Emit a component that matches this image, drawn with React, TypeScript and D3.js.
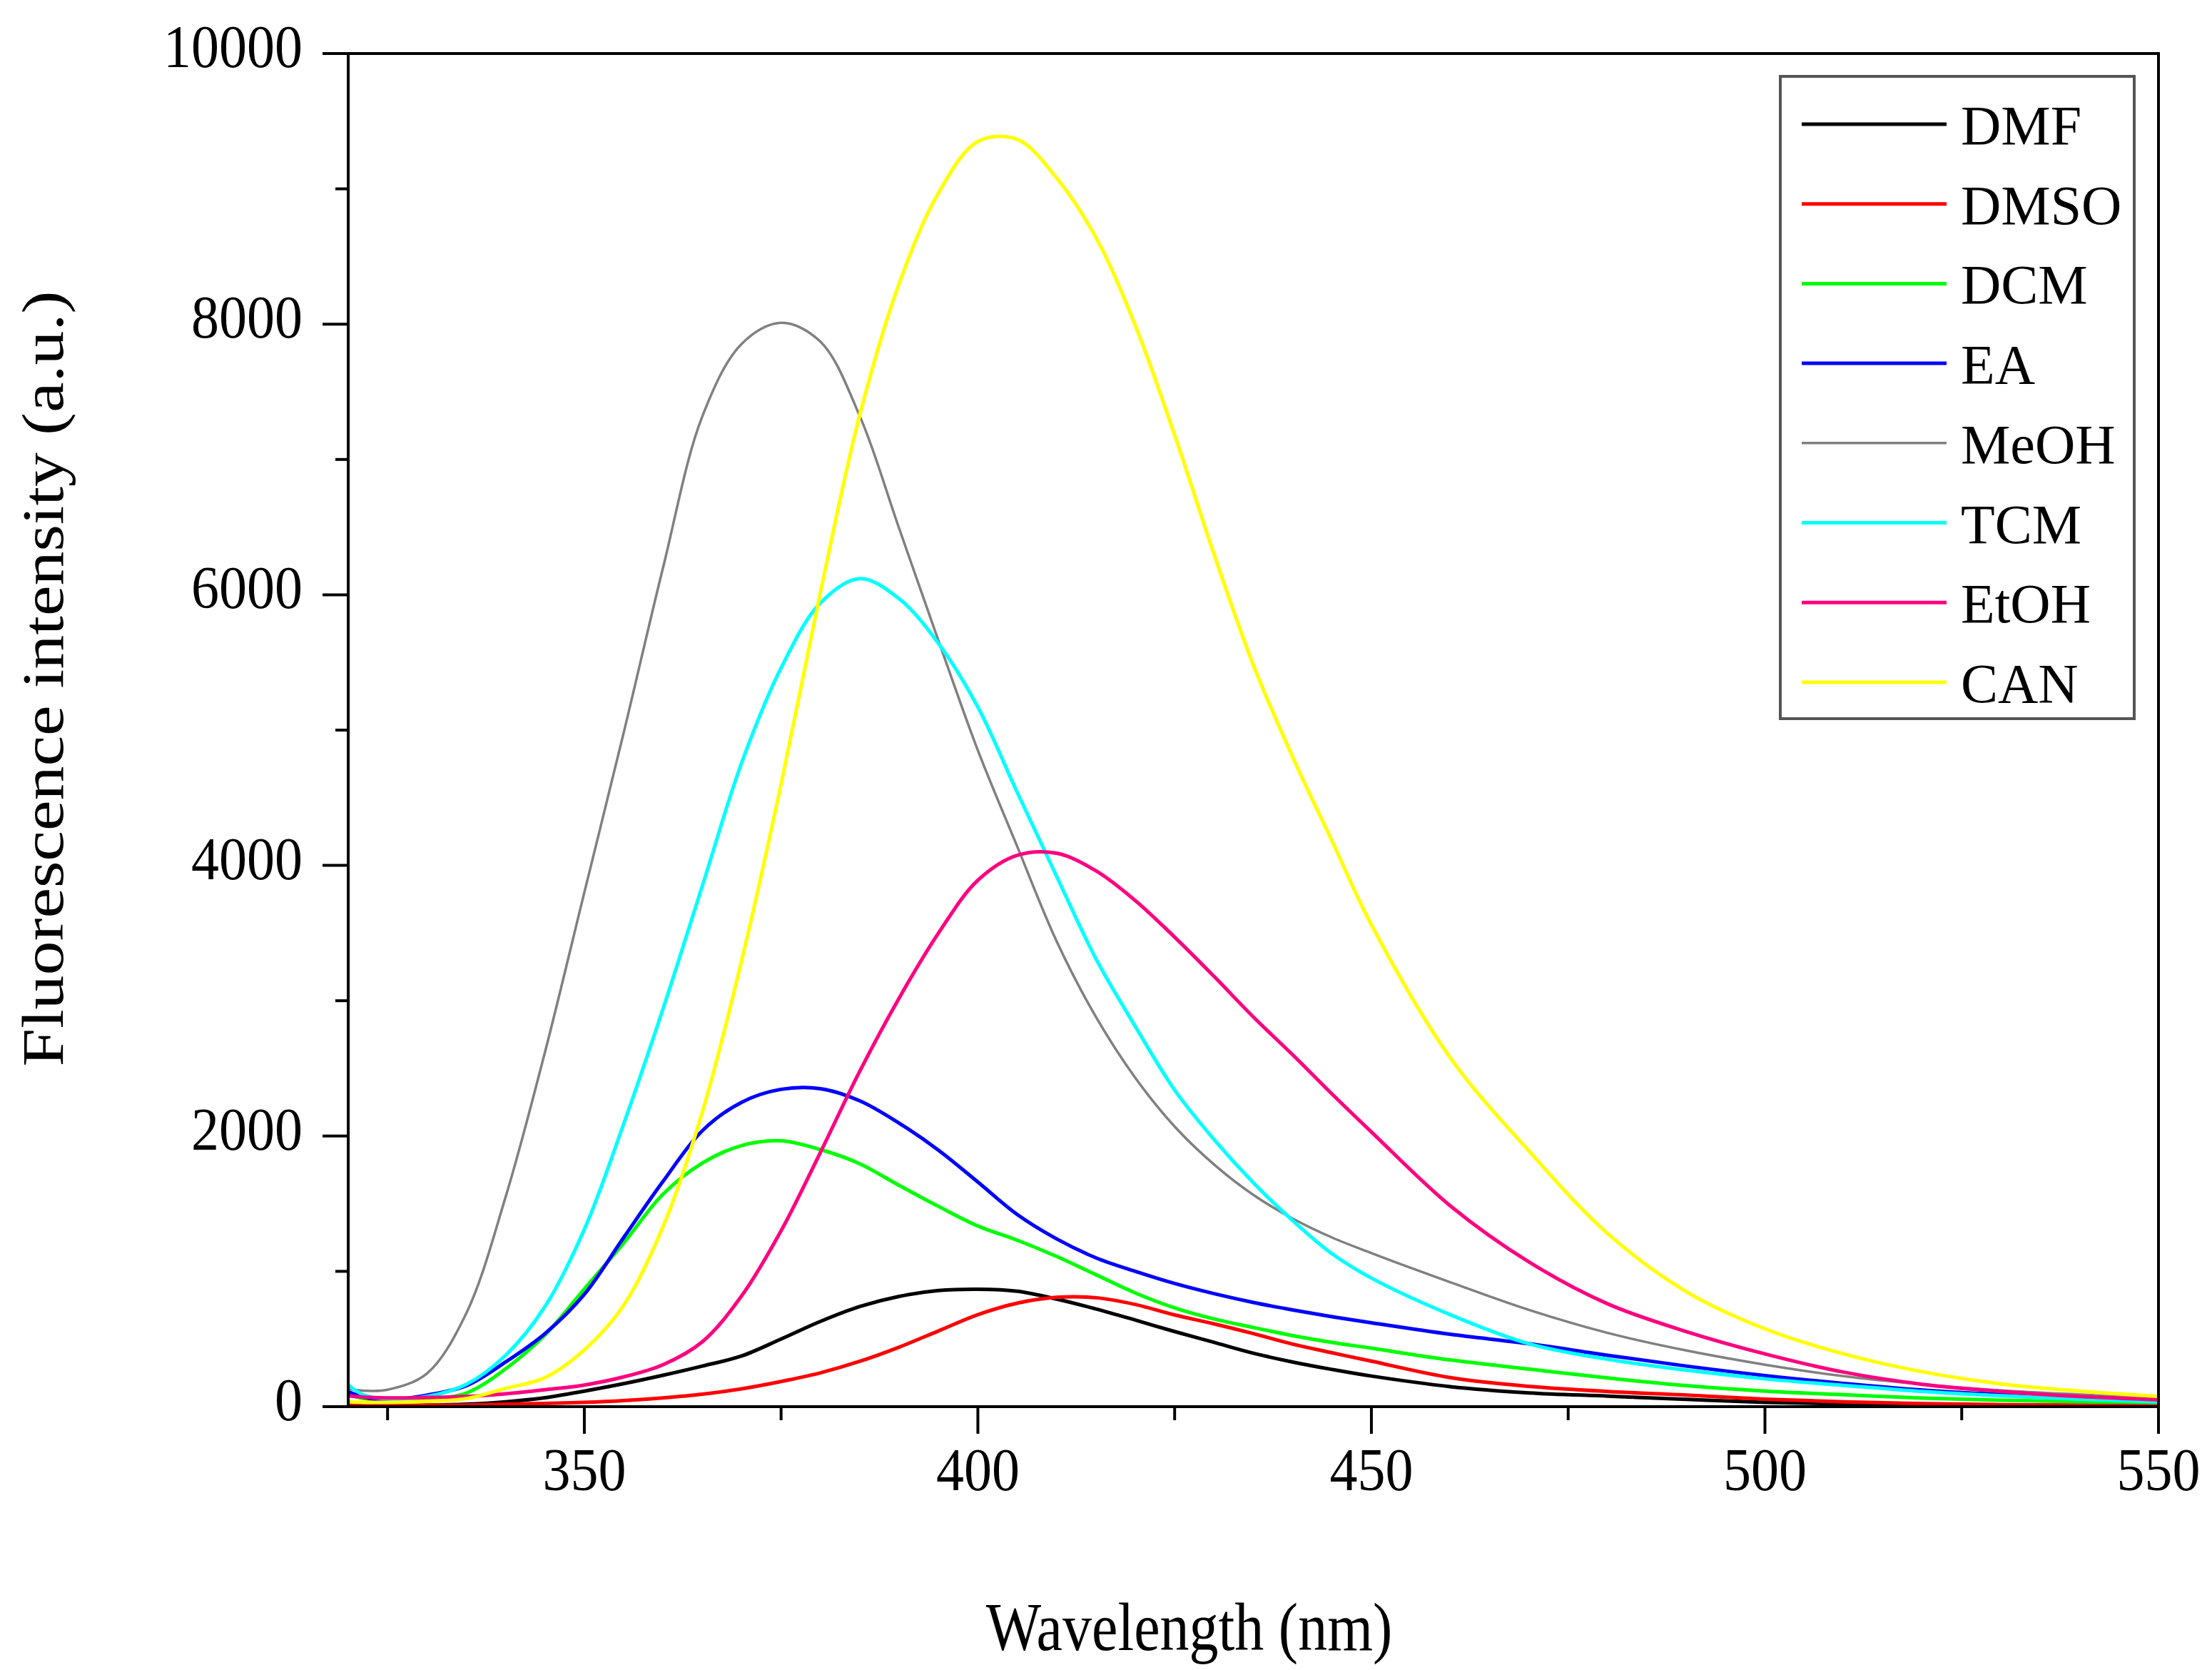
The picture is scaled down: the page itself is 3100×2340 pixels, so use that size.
import { useEffect, useRef } from 'react';
import * as d3 from 'd3';

// Wavelength grid (nm) shared by all spectra
const wavelengths = [
  320, 322, 325, 330, 335, 340, 345, 350, 355, 360, 365, 370, 375, 380, 385, 390, 395, 400, 405,
  410, 415, 420, 425, 430, 435, 440, 445, 450, 460, 470, 480, 490, 500, 510, 520, 530, 540, 550,
];

// Fluorescence intensity (a.u.) per solvent
const dmf = [
  12, 10, 8, 10, 18, 36, 66, 115, 170, 232, 300, 375, 500, 630, 740, 815, 858, 868, 853,
  795, 722, 640, 555, 475, 395, 330, 275, 226, 148, 102, 78, 54, 32, 20, 12, 8, 6, 5,
];
const dmso = [
  18, 14, 10, 10, 12, 18, 24, 32, 45, 65, 92, 132, 186, 250, 335, 440, 560, 680, 765,
  808, 805, 755, 678, 612, 540, 462, 398, 336, 215, 150, 112, 86, 56, 36, 22, 15, 12, 10,
];
const dcm = [
  90, 60, 45, 55, 100, 280, 530, 870, 1210, 1570, 1800, 1930, 1965, 1900, 1795, 1635, 1480, 1335, 1230,
  1110, 975, 840, 730, 648, 585, 525, 475, 432, 345, 278, 212, 155, 115, 88, 63, 47, 37, 30,
];
const ea = [
  110, 70, 50, 85, 155, 330, 540, 830, 1250, 1665, 2040, 2250, 2345, 2350, 2260, 2095, 1895, 1660, 1420,
  1240, 1100, 1000, 910, 835, 770, 715, 665, 620, 535, 465, 380, 300, 230, 172, 123, 90, 68, 51,
];
const meoh = [
  130, 118, 125, 245, 690, 1550, 2620, 3800, 4980, 6200, 7320, 7855, 8010, 7870, 7320, 6490, 5660, 4850, 4140,
  3440, 2880, 2430, 2070, 1790, 1565, 1390, 1250, 1135, 920, 715, 545, 415, 310, 225, 165, 120, 90, 65,
];
const tcm = [
  160, 85, 58, 75, 165, 380, 740, 1310, 2090, 2940, 3850, 4760, 5460, 5940, 6120, 5970, 5640, 5170, 4540,
  3920, 3310, 2810, 2340, 1975, 1655, 1375, 1130, 950, 680, 465, 350, 270, 205, 157, 112, 80, 55, 36,
];
const etoh = [
  80, 70, 65, 68, 75, 95, 125, 160, 220, 310, 480, 820, 1300, 1880, 2480, 3020, 3500, 3890, 4075,
  4090, 3960, 3740, 3470, 3180, 2880, 2600, 2310, 2030, 1485, 1070, 760, 555, 390, 255, 165, 112, 75, 51,
];
const can = [
  35, 32, 32, 40, 60, 135, 215, 420, 750, 1330, 2180, 3300, 4600, 6020, 7330, 8300, 8970, 9350, 9365,
  9080, 8640, 7990, 7180, 6300, 5480, 4800, 4180, 3560, 2580, 1890, 1280, 850, 575, 390, 258, 168, 115, 76,
];

const seriesNames = ['DMF', 'DMSO', 'DCM', 'EA', 'MeOH', 'TCM', 'EtOH', 'CAN'];
const seriesValues = [dmf, dmso, dcm, ea, meoh, tcm, etoh, can];
const seriesColors = ['#000000', '#ff0000', '#00ff00', '#0000ff', '#808080', '#00ffff', '#ff0080', '#ffff00'];

const xTicks = [350, 400, 450, 500, 550];
const xMinorTicks = [325, 375, 425, 475, 525];
const yTicks = [0, 2000, 4000, 6000, 8000, 10000];
const yMinorTicks = [1000, 3000, 5000, 7000, 9000];

const WIDTH = 3100;
const HEIGHT = 2340;
const FONT = '"Liberation Serif", "Times New Roman", serif';

const App = () => {
  const svgRef = useRef<SVGSVGElement>(null);

  useEffect(() => {
    if (!svgRef.current) return;
    const svg = d3.select(svgRef.current);
    svg.selectAll('*').remove();

    // Plot frame in pixels
    const left = 488;
    const right = 3025;
    const top = 75;
    const bottom = 1971;

    const xScale = d3.scaleLinear().domain([320, 550]).range([left, right]);
    const yScale = d3.scaleLinear().domain([0, 10000]).range([bottom, top]);

    svg.append('rect')
      .attr('width', WIDTH)
      .attr('height', HEIGHT)
      .attr('fill', '#ffffff');

    svg.append('defs')
      .append('clipPath')
      .attr('id', 'plot-clip')
      .append('rect')
      .attr('x', left)
      .attr('y', top - 2)
      .attr('width', right - left)
      .attr('height', bottom - top + 2);

    // Spectra
    const line = d3.line<number>()
      .x((_, i) => xScale(wavelengths[i]))
      .y(d => yScale(d))
      .curve(d3.curveCatmullRom.alpha(0.5));

    const curves = svg.append('g').attr('clip-path', 'url(#plot-clip)');
    seriesValues.forEach((values, i) => {
      curves.append('path')
        .attr('d', line(values) || '')
        .attr('fill', 'none')
        .attr('stroke', seriesColors[i])
        .attr('stroke-width', seriesNames[i] === 'MeOH' ? 3.5 : 5)
        .attr('stroke-linejoin', 'round');
    });

    // Frame
    svg.append('rect')
      .attr('x', left)
      .attr('y', top)
      .attr('width', right - left)
      .attr('height', bottom - top)
      .attr('fill', 'none')
      .attr('stroke', '#000')
      .attr('stroke-width', 4);

    // Ticks (outward)
    const axes = svg.append('g').attr('stroke', '#000').attr('stroke-width', 4);
    xTicks.forEach(t => {
      axes.append('line')
        .attr('x1', xScale(t)).attr('x2', xScale(t))
        .attr('y1', bottom).attr('y2', bottom + 38);
    });
    xMinorTicks.forEach(t => {
      axes.append('line')
        .attr('x1', xScale(t)).attr('x2', xScale(t))
        .attr('y1', bottom).attr('y2', bottom + 19);
    });
    yTicks.forEach(t => {
      axes.append('line')
        .attr('x1', left - 36).attr('x2', left)
        .attr('y1', yScale(t)).attr('y2', yScale(t));
    });
    yMinorTicks.forEach(t => {
      axes.append('line')
        .attr('x1', left - 18).attr('x2', left)
        .attr('y1', yScale(t)).attr('y2', yScale(t));
    });

    // Tick labels
    xTicks.forEach(t => {
      svg.append('text')
        .attr('transform', `translate(${xScale(t)},${bottom + 117}) scale(1,1.08)`)
        .attr('text-anchor', 'middle')
        .attr('font-family', FONT)
        .attr('font-size', 78)
        .attr('fill', '#000')
        .text(t);
    });
    yTicks.forEach(t => {
      svg.append('text')
        .attr('transform', `translate(${left - 64},${yScale(t) + 19}) scale(1,1.08)`)
        .attr('text-anchor', 'end')
        .attr('font-family', FONT)
        .attr('font-size', 78)
        .attr('fill', '#000')
        .text(t);
    });

    // Axis titles
    svg.append('text')
      .attr('transform', `translate(${(left + right) / 2 - 90},2312) scale(1,1.15)`)
      .attr('text-anchor', 'middle')
      .attr('font-family', FONT)
      .attr('font-size', 82)
      .attr('fill', '#000')
      .text('Wavelength (nm)');

    svg.append('text')
      .attr('transform', `translate(88,951) rotate(-90) scale(1.17,1)`)
      .attr('text-anchor', 'middle')
      .attr('font-family', FONT)
      .attr('font-size', 82)
      .attr('fill', '#000')
      .text('Fluorescence intensity (a.u.)');

    // Legend
    const legend = svg.append('g');
    legend.append('rect')
      .attr('x', 2495)
      .attr('y', 107)
      .attr('width', 496)
      .attr('height', 900)
      .attr('fill', '#fff')
      .attr('stroke', '#555')
      .attr('stroke-width', 4);

    seriesNames.forEach((name, i) => {
      const ly = 174 + i * 111.7;
      legend.append('line')
        .attr('x1', 2525).attr('x2', 2728)
        .attr('y1', ly).attr('y2', ly)
        .attr('stroke', seriesColors[i])
        .attr('stroke-width', name === 'MeOH' ? 3.5 : 5);
      legend.append('text')
        .attr('x', 2748)
        .attr('y', ly + 28)
        .attr('font-family', FONT)
        .attr('font-size', 78)
        .attr('fill', '#000')
        .text(name);
    });
  }, []);

  return (
    <svg
      ref={svgRef}
      width={WIDTH}
      height={HEIGHT}
      style={{ position: 'absolute', left: 0, top: 0 }}
    />
  );
};

export default App;
